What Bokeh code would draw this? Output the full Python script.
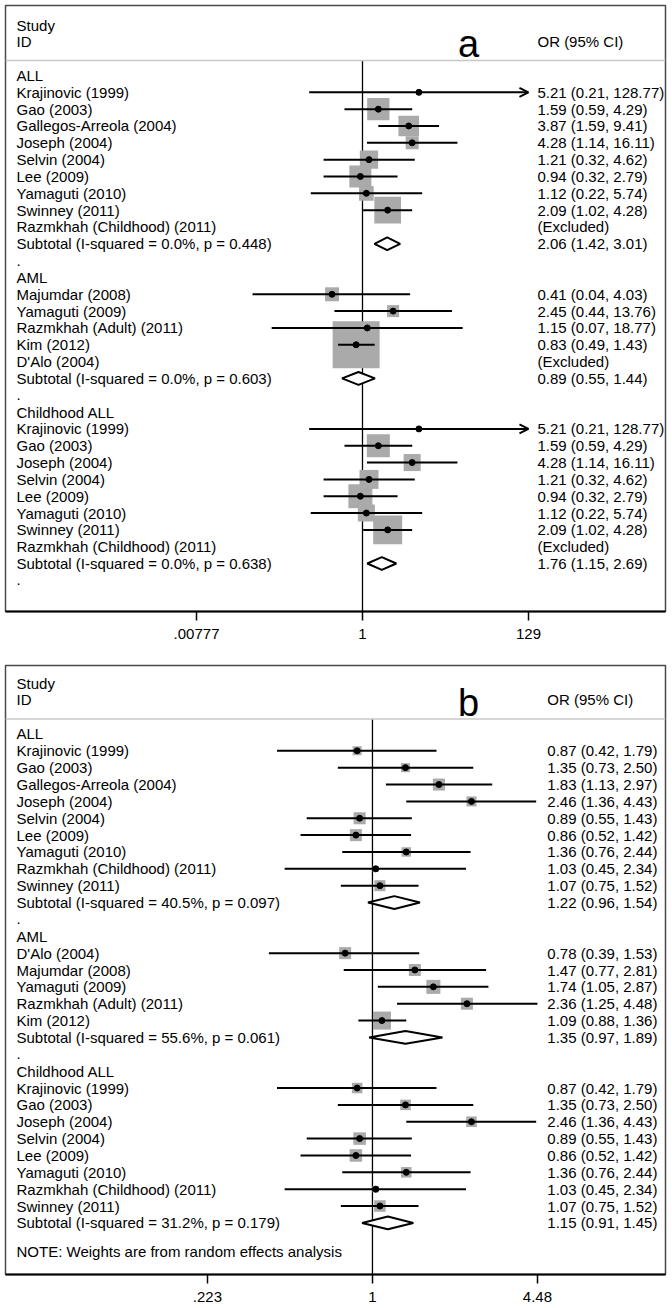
import math
from bokeh.plotting import figure
from bokeh.layouts import column
from bokeh.models import (Range1d, FixedTicker, CustomJSTickFormatter, Span,
                          Arrow, OpenHead, ColumnDataSource)
from bokeh.core.properties import value
from bokeh.embed import file_html
from bokeh.resources import INLINE

# ---------------- Panel a data ----------------
a_study = ["ALL", "Krajinovic (1999)", "Gao (2003)", "Gallegos-Arreola (2004)", "Joseph (2004)",
           "Selvin (2004)", "Lee (2009)", "Yamaguti (2010)", "Swinney (2011)",
           "Razmkhah (Childhood) (2011)", "Subtotal  (I-squared = 0.0%, p = 0.448)", ".",
           "AML", "Majumdar (2008)", "Yamaguti (2009)", "Razmkhah (Adult) (2011)", "Kim (2012)",
           "D'Alo (2004)", "Subtotal  (I-squared = 0.0%, p = 0.603)", ".",
           "Childhood ALL", "Krajinovic (1999)", "Gao (2003)", "Joseph (2004)", "Selvin (2004)",
           "Lee (2009)", "Yamaguti (2010)", "Swinney (2011)", "Razmkhah (Childhood) (2011)",
           "Subtotal  (I-squared = 0.0%, p = 0.638)", "."]
a_kind = ["group", "study", "study", "study", "study", "study", "study", "study", "study",
          "excl", "sub", "dot",
          "group", "study", "study", "study", "study", "excl", "sub", "dot",
          "group", "study", "study", "study", "study", "study", "study", "study", "excl",
          "sub", "dot"]
a_or = [None, 5.21, 1.59, 3.87, 4.28, 1.21, 0.94, 1.12, 2.09, None, 2.06, None,
        None, 0.41, 2.45, 1.15, 0.83, None, 0.89, None,
        None, 5.21, 1.59, 4.28, 1.21, 0.94, 1.12, 2.09, None, 1.76, None]
a_lo = [None, 0.21, 0.59, 1.59, 1.14, 0.32, 0.32, 0.22, 1.02, None, 1.42, None,
        None, 0.04, 0.44, 0.07, 0.49, None, 0.55, None,
        None, 0.21, 0.59, 1.14, 0.32, 0.32, 0.22, 1.02, None, 1.15, None]
a_hi = [None, 128.77, 4.29, 9.41, 16.11, 4.62, 2.79, 5.74, 4.28, None, 3.01, None,
        None, 4.03, 13.76, 18.77, 1.43, None, 1.44, None,
        None, 128.77, 4.29, 16.11, 4.62, 2.79, 5.74, 4.28, None, 2.69, None]
# estimated weights (%)
a_weight = [0, 0.8, 19.9, 17.0, 6.8, 13.4, 19.4, 8.6, 28.5, 0, 0, 0,
            0, 7.8, 5.8, 0.6, 88.4, 0, 0, 0,
            0, 0.9, 21.2, 11.6, 14.4, 23.0, 11.6, 33.6, 0, 0, 0]
a_clipped = [i in (1, 21) for i in range(len(a_study))]
a_ticks = [0.00777, 1, 129]
a_tick_labels = [".00777", "1", "129"]

# ---------------- Panel b data ----------------
b_study = ["ALL", "Krajinovic (1999)", "Gao (2003)", "Gallegos-Arreola (2004)", "Joseph (2004)",
           "Selvin (2004)", "Lee (2009)", "Yamaguti (2010)", "Razmkhah (Childhood) (2011)",
           "Swinney (2011)", "Subtotal  (I-squared = 40.5%, p = 0.097)", ".",
           "AML", "D'Alo (2004)", "Majumdar (2008)", "Yamaguti (2009)", "Razmkhah (Adult) (2011)",
           "Kim (2012)", "Subtotal  (I-squared = 55.6%, p = 0.061)", ".",
           "Childhood ALL", "Krajinovic (1999)", "Gao (2003)", "Joseph (2004)", "Selvin (2004)",
           "Lee (2009)", "Yamaguti (2010)", "Razmkhah (Childhood) (2011)", "Swinney (2011)",
           "Subtotal  (I-squared = 31.2%, p = 0.179)",
           "NOTE: Weights are from random effects analysis"]
b_kind = ["group", "study", "study", "study", "study", "study", "study", "study", "study",
          "study", "sub", "dot",
          "group", "study", "study", "study", "study", "study", "sub", "dot",
          "group", "study", "study", "study", "study", "study", "study", "study", "study",
          "sub", "note"]
b_or = [None, 0.87, 1.35, 1.83, 2.46, 0.89, 0.86, 1.36, 1.03, 1.07, 1.22, None,
        None, 0.78, 1.47, 1.74, 2.36, 1.09, 1.35, None,
        None, 0.87, 1.35, 2.46, 0.89, 0.86, 1.36, 1.03, 1.07, 1.15, None]
b_lo = [None, 0.42, 0.73, 1.13, 1.36, 0.55, 0.52, 0.76, 0.45, 0.75, 0.96, None,
        None, 0.39, 0.77, 1.05, 1.25, 0.88, 0.97, None,
        None, 0.42, 0.73, 1.36, 0.55, 0.52, 0.76, 0.45, 0.75, 0.91, None]
b_hi = [None, 1.79, 2.50, 2.97, 4.43, 1.43, 1.42, 2.44, 2.34, 1.52, 1.54, None,
        None, 1.53, 2.81, 2.87, 4.48, 1.36, 1.89, None,
        None, 1.79, 2.50, 4.43, 1.43, 1.42, 2.44, 2.34, 1.52, 1.45, None]
b_weight = [0, 9.0, 9.0, 16.0, 11.1, 16.0, 16.0, 10.0, 4.0, 13.4, 0, 0,
            0, 16.0, 16.0, 21.8, 16.0, 36.0, 0, 0,
            0, 12.3, 12.3, 12.3, 17.4, 17.4, 12.3, 4.7, 14.7, 0, 0]
b_clipped = [False] * len(b_study)
b_ticks = [0.223, 1, 4.48]
b_tick_labels = [".223", "1", "4.48"]

FONT = value("Liberation Sans")
BOX = "#aaaaaa"


def build(study, kind, ors, los, his, weight, clipped, ticks, tick_labels, letter,
          one_frac, ln_span, y_top, y_bot, val_frac, box_scale, height, top_b, bottom_b):
    left_ln = -one_frac * ln_span
    right_ln = left_ln + ln_span

    def fx(frac):
        return math.exp(left_ln + frac * ln_span)

    p = figure(width=672, height=height, x_axis_type="log",
               x_range=Range1d(math.exp(left_ln), math.exp(right_ln)),
               y_range=Range1d(y_bot, y_top), y_axis_location=None,
               output_backend="svg", toolbar_location=None,
               min_border_left=5, min_border_right=7, min_border_top=top_b,
               min_border_bottom=bottom_b,
               background_fill_color="white", border_fill_color="white",
               outline_line_color="#4a4a4a", outline_line_width=1.5)
    p.xgrid.visible = False
    p.ygrid.visible = False

    ax = p.xaxis[0]
    ax.ticker = FixedTicker(ticks=ticks, minor_ticks=[])
    ax.formatter = CustomJSTickFormatter(
        args=dict(t=ticks, l=tick_labels),
        code="for (let i=0;i<t.length;i++){ if (Math.abs(Math.log(tick)-Math.log(t[i]))<1e-6) return l[i]; } return '';")
    ax.axis_line_width = 2
    ax.axis_line_color = "black"
    ax.major_tick_out = 9
    ax.major_tick_in = 0
    ax.major_tick_line_width = 1.5
    ax.minor_tick_line_color = None
    ax.major_label_standoff = 8
    ax.major_label_text_font = "Liberation Sans"
    ax.major_label_text_font_size = "15px"
    ax.major_label_text_color = "black"

    sep = -0.89
    p.add_layout(Span(location=sep, dimension="width", line_color="#c8c8c8", line_width=1.5))

    ys = []
    for i, k in enumerate(kind):
        ys.append(i + 0.7 if k == "note" else i)

    # null line
    p.segment(x0=[1], y0=[sep], x1=[1], y1=[y_bot], line_color="black", line_width=1.3)

    st = [i for i, k in enumerate(kind) if k == "study"]
    # boxes
    p.scatter(x=[ors[i] for i in st], y=[ys[i] for i in st], marker="square",
              size=[box_scale * math.sqrt(weight[i]) for i in st],
              fill_color=BOX, line_color=None)
    # CI lines
    seg = [i for i in st if not clipped[i]]
    p.segment(x0=[los[i] for i in seg], y0=[ys[i] for i in seg],
              x1=[his[i] for i in seg], y1=[ys[i] for i in seg],
              line_color="black", line_width=2)
    arr = [i for i in st if clipped[i]]
    if arr:
        src = ColumnDataSource(dict(x0=[los[i] for i in arr], x1=[his[i] for i in arr],
                                    y=[ys[i] for i in arr]))
        p.add_layout(Arrow(end=OpenHead(size=9, line_width=2, line_color="black"),
                           x_start="x0", y_start="y", x_end="x1", y_end="y",
                           line_width=2, line_color="black", source=src))
    # point estimates
    p.scatter(x=[ors[i] for i in st], y=[ys[i] for i in st], marker="circle", size=6,
              fill_color="black", line_color="black")
    # diamonds
    sb = [i for i, k in enumerate(kind) if k == "sub"]
    h = 0.38
    p.patches(xs=[[los[i], ors[i], his[i], ors[i]] for i in sb],
              ys=[[ys[i], ys[i] - h, ys[i], ys[i] + h] for i in sb],
              fill_color="white", line_color="black", line_width=2)

    # left texts
    lx = fx(0.0167)
    p.text(x=[lx] * (len(study) + 2), y=[-3.0, -2.05] + ys, text=["Study", "ID"] + study,
           text_font=FONT, text_font_size=value("15px"), text_baseline="middle",
           text_align="left", text_color="black")
    # right texts
    vtext, vy = ["OR (95% CI)"], [-2.05]
    for i, k in enumerate(kind):
        if k in ("study", "sub"):
            vtext.append(f"{ors[i]:.2f} ({los[i]:.2f}, {his[i]:.2f})")
            vy.append(ys[i])
        elif k == "excl":
            vtext.append("(Excluded)")
            vy.append(ys[i])
    p.text(x=[fx(val_frac)] * len(vtext), y=vy, text=vtext,
           text_font=FONT, text_font_size=value("15px"), text_baseline="middle",
           text_align="left", text_color="black")
    # panel letter
    p.text(x=[fx(0.7015)], y=[-1.85], text=[letter], text_font=FONT,
           text_font_size=value("38px"), text_baseline="alphabetic", text_align="center",
           text_color="black")
    return p


pa = build(a_study, a_kind, a_or, a_lo, a_hi, a_weight, a_clipped, a_ticks, a_tick_labels,
           "a", 0.5409, 19.32, -4.16, 31.85, 0.806, 5.0, 660, 5, 49)
pb = build(b_study, b_kind, b_or, b_lo, b_hi, b_weight, b_clipped, b_ticks, b_tick_labels,
           "b", 0.556, 6.0, -4.06, 32.06, 0.821, 3.0, 646, 5, 32)

layout = column(pa, pb, spacing=0)
open("out.html", "w").write(file_html(layout, INLINE))
